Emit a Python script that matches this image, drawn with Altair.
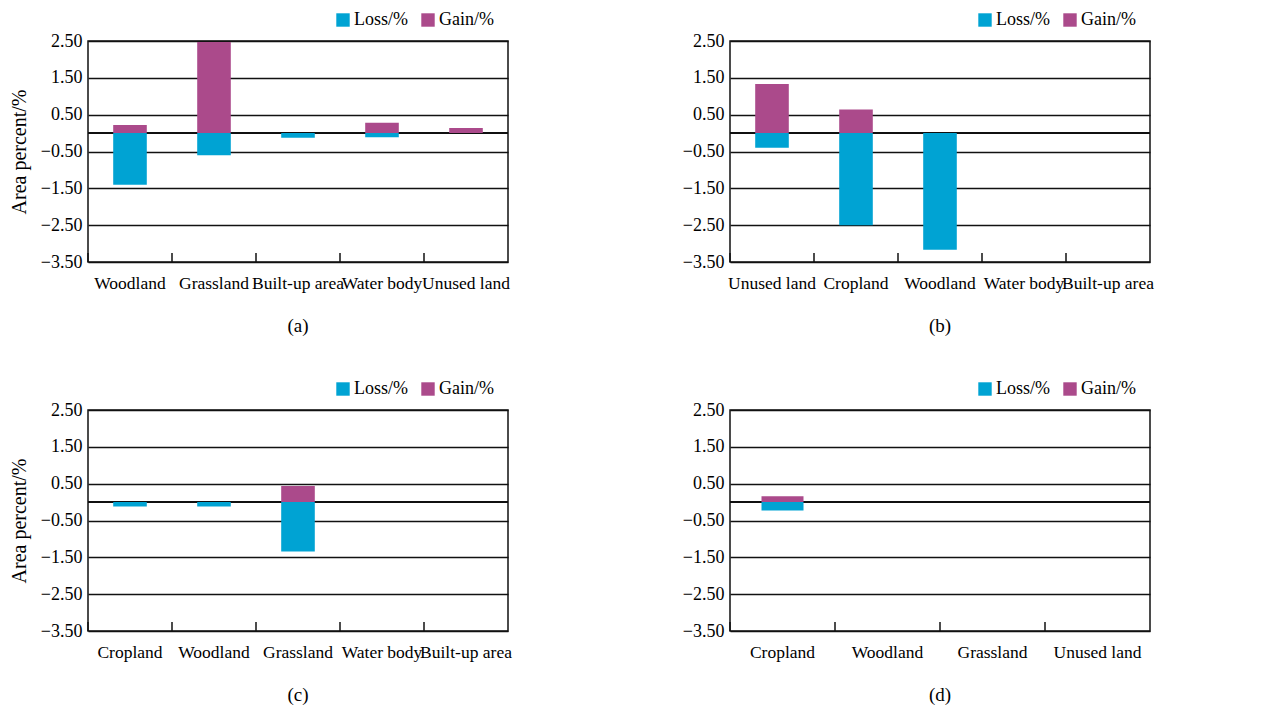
import altair as alt
import pandas as pd

# ---- data ----
cats_a = ["Woodland", "Grassland", "Built-up area", "Water body", "Unused land"]
loss_a = [-1.40, -0.60, -0.13, -0.11, 0.00]
gain_a = [0.22, 2.47, 0.00, 0.28, 0.14]

cats_b = ["Unused land", "Cropland", "Woodland", "Water body", "Built-up area"]
loss_b = [-0.40, -2.50, -3.17, 0.00, 0.00]
gain_b = [1.33, 0.64, 0.00, 0.00, 0.00]

cats_c = ["Cropland", "Woodland", "Grassland", "Water body", "Built-up area"]
loss_c = [-0.12, -0.12, -1.34, 0.00, 0.00]
gain_c = [0.00, 0.00, 0.44, 0.00, 0.00]

cats_d = ["Cropland", "Woodland", "Grassland", "Unused land"]
loss_d = [-0.23, 0.00, 0.00, 0.00]
gain_d = [0.16, 0.00, 0.00, 0.00]

series = ["Loss/%", "Gain/%"]
colors = ["#00A3D3", "#AB4A8B"]
y_ticks = [2.5, 1.5, 0.5, -0.5, -1.5, -2.5, -3.5]
captions = ["(a)", "(b)", "(c)", "(d)"]

FONT = "Liberation Serif"
W, H = 420, 221


def panel(cats, loss, gain, caption, ytitle):
    rows = []
    for c, l, g in zip(cats, loss, gain):
        rows.append({"cat": c, "type": series[0], "value": l})
        rows.append({"cat": c, "type": series[1], "value": g})
    df = pd.DataFrame(rows)
    xs = alt.Scale(domain=cats, paddingInner=0, paddingOuter=0)
    ys = alt.Scale(domain=[-3.5, 2.5], nice=False, zero=False)

    xaxis = alt.Axis(title=None, ticks=False, domain=False, grid=False,
                     labelFont=FONT, labelFontSize=17.5, labelColor="black",
                     labelPadding=12, labelAngle=0, labelOverlap=False,
                     labelBound=False)
    ykw = dict(values=y_ticks, format=".2f", domain=False, ticks=False,
               grid=True, gridColor="#111", gridWidth=1.5, gridOpacity=1,
               labelFont=FONT, labelFontSize=18, labelColor="black",
               labelPadding=6, labelOverlap=False, labelBound=False)
    if ytitle:
        yaxis = alt.Axis(title="Area percent/%", titleFont=FONT, titleFontSize=20,
                         titleFontWeight="normal", titleColor="black",
                         titleX=-69, titleY=H / 2, titleAngle=270,
                         titleAlign="center", titleBaseline="middle", **ykw)
    else:
        yaxis = alt.Axis(title=None, **ykw)

    base = alt.Chart(df)
    zero = base.mark_rule(color="#111", strokeWidth=1.5).encode(
        y=alt.datum(0, scale=ys, axis=yaxis)
    )
    bars = base.transform_filter("datum.value != 0").mark_bar(
        width=alt.RelativeBandSize(0.4)
    ).encode(
        x=alt.X("cat:N", scale=xs, axis=xaxis, sort=cats),
        y=alt.Y("value:Q", scale=ys, axis=yaxis, stack=None),
        color=alt.Color("type:N", scale=alt.Scale(domain=series, range=colors),
                        legend=alt.Legend(title=None, orient="none", legendX=246,
                                          legendY=-30, direction="horizontal",
                                          symbolType="square", symbolSize=180,
                                          symbolStrokeWidth=0, labelFont=FONT,
                                          labelFontSize=18, labelColor="black",
                                          labelOffset=2, columnPadding=11)),
    )
    ticks = alt.Chart(pd.DataFrame({"cat": cats})).mark_rule(
        color="#111", strokeWidth=1.5
    ).encode(
        x=alt.X("cat:N", scale=xs, bandPosition=0, axis=xaxis, sort=cats),
        y=alt.value(H - 9),
        y2=alt.value(H),
    )
    return alt.layer(zero, bars, ticks).properties(
        width=W, height=H,
        view=alt.ViewBackground(stroke="#111", strokeWidth=1.5),
        title=alt.Title(caption, orient="bottom", anchor="middle", frame="group",
                        font=FONT, fontSize=19, fontWeight="normal", color="black",
                        offset=25),
    )


pa = panel(cats_a, loss_a, gain_a, captions[0], True)
pb = panel(cats_b, loss_b, gain_b, captions[1], False)
pc = panel(cats_c, loss_c, gain_c, captions[2], True)
pd_ = panel(cats_d, loss_d, gain_d, captions[3], False)

chart = alt.concat(
    pa, pb, pc, pd_, columns=2, spacing={"row": 148, "column": 222}, bounds="flush"
).resolve_scale(
    x="independent", color="independent"
).properties(
    padding={"left": 0, "top": 2, "right": 5, "bottom": 5}
).configure_view(
    stroke="#111", strokeWidth=1.5
).configure(background="white")

chart.save("out.html", embed_options={"renderer": "svg", "actions": False})
